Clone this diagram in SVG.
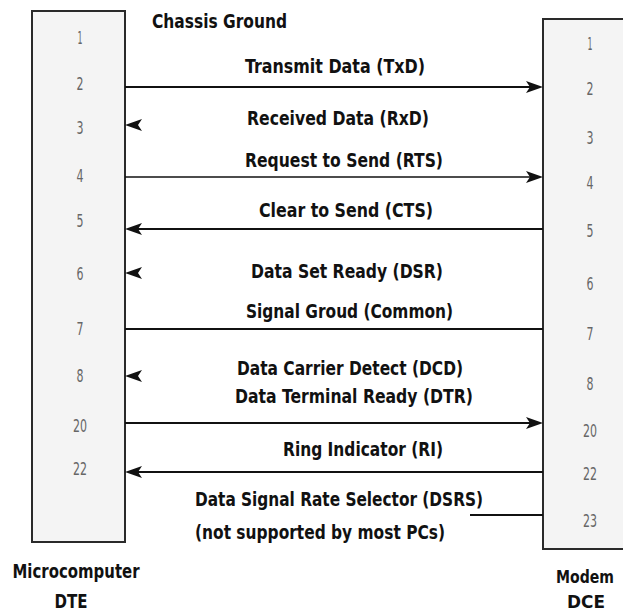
<svg xmlns="http://www.w3.org/2000/svg" width="623" height="615" viewBox="0 0 623 615">
<style>
.box{fill:#f4f4f4;stroke:#2a2a2a;stroke-width:2}
.fill{fill:#f4f4f4}
.edge{fill:none;stroke:#2a2a2a;stroke-width:2}
.num{font-family:"DejaVu Sans Condensed","Liberation Sans Narrow","DejaVu Sans",sans-serif;font-stretch:condensed;font-size:17px;fill:#666;text-anchor:middle}
.lbl{font-family:"DejaVu Sans Condensed","Liberation Sans Narrow","DejaVu Sans",sans-serif;font-stretch:condensed;font-weight:bold;font-size:20px;fill:#111}
.ttl{font-family:"DejaVu Sans Condensed","Liberation Sans Narrow","DejaVu Sans",sans-serif;font-stretch:condensed;font-weight:bold;font-size:20px;fill:#111}
.sm{font-size:18px}
.mid{text-anchor:middle}
.ln{stroke:#111;stroke-width:2;fill:none}
.thin{stroke-width:1.4}
.ah{fill:#111}
</style>
<defs>
<path id="arr" d="M0,0 L-17,-6 L-13,0 L-17,6 Z"/>
</defs>
<g id="dte">
<rect class="box" x="32" y="11" width="93" height="531"/>
<text class="num" x="80" y="44" textLength="5" lengthAdjust="spacingAndGlyphs">1</text>
<text class="num" x="80" y="90" textLength="7" lengthAdjust="spacingAndGlyphs">2</text>
<text class="num" x="80" y="134" textLength="7" lengthAdjust="spacingAndGlyphs">3</text>
<text class="num" x="80" y="182" textLength="7" lengthAdjust="spacingAndGlyphs">4</text>
<text class="num" x="80" y="227" textLength="7" lengthAdjust="spacingAndGlyphs">5</text>
<text class="num" x="80" y="280" textLength="7" lengthAdjust="spacingAndGlyphs">6</text>
<text class="num" x="80" y="335" textLength="7" lengthAdjust="spacingAndGlyphs">7</text>
<text class="num" x="80" y="382" textLength="7" lengthAdjust="spacingAndGlyphs">8</text>
<text class="num" x="80" y="432" textLength="14" lengthAdjust="spacingAndGlyphs">20</text>
<text class="num" x="80" y="475" textLength="14" lengthAdjust="spacingAndGlyphs">22</text>
<text class="ttl mid" x="76" y="578" textLength="127" lengthAdjust="spacingAndGlyphs">Microcomputer</text>
<text class="ttl mid" x="71" y="608" textLength="33" lengthAdjust="spacingAndGlyphs">DTE</text>
</g>
<g id="dce">
<rect class="fill" x="543" y="19" width="80" height="530"/>
<path class="edge" d="M623,19 H543 V549 H623"/>
<text class="num" x="590" y="50" textLength="5" lengthAdjust="spacingAndGlyphs">1</text>
<text class="num" x="590" y="95" textLength="7" lengthAdjust="spacingAndGlyphs">2</text>
<text class="num" x="590" y="144" textLength="7" lengthAdjust="spacingAndGlyphs">3</text>
<text class="num" x="590" y="189" textLength="7" lengthAdjust="spacingAndGlyphs">4</text>
<text class="num" x="590" y="237" textLength="7" lengthAdjust="spacingAndGlyphs">5</text>
<text class="num" x="590" y="290" textLength="7" lengthAdjust="spacingAndGlyphs">6</text>
<text class="num" x="590" y="340" textLength="7" lengthAdjust="spacingAndGlyphs">7</text>
<text class="num" x="590" y="390" textLength="7" lengthAdjust="spacingAndGlyphs">8</text>
<text class="num" x="590" y="437" textLength="14" lengthAdjust="spacingAndGlyphs">20</text>
<text class="num" x="590" y="480" textLength="14" lengthAdjust="spacingAndGlyphs">22</text>
<text class="num" x="590" y="527" textLength="14" lengthAdjust="spacingAndGlyphs">23</text>
<text class="ttl sm mid" x="585" y="583" textLength="58" lengthAdjust="spacingAndGlyphs">Modem</text>
<text class="ttl sm mid" x="586" y="608" textLength="38" lengthAdjust="spacingAndGlyphs">DCE</text>
</g>
<g id="connectors">
<line class="ln" x1="125" y1="87" x2="530" y2="87"/>
<use href="#arr" class="ah" transform="translate(543,87)"/>
<use href="#arr" class="ah" transform="translate(125,125) rotate(180)"/>
<line class="ln thin" x1="125" y1="177" x2="530" y2="177"/>
<use href="#arr" class="ah" transform="translate(543,177)"/>
<line class="ln" x1="138" y1="229" x2="543" y2="229"/>
<use href="#arr" class="ah" transform="translate(125,229) rotate(180)"/>
<use href="#arr" class="ah" transform="translate(125,273) rotate(180)"/>
<line class="ln" x1="125" y1="329" x2="543" y2="329"/>
<use href="#arr" class="ah" transform="translate(125,376) rotate(180)"/>
<line class="ln" x1="125" y1="423" x2="530" y2="423"/>
<use href="#arr" class="ah" transform="translate(543,423)"/>
<line class="ln" x1="138" y1="472" x2="543" y2="472"/>
<use href="#arr" class="ah" transform="translate(125,472) rotate(180)"/>
<line class="ln" x1="470" y1="515" x2="543" y2="515"/>
</g>
<g id="labels">
<text class="lbl" x="152" y="28" textLength="135" lengthAdjust="spacingAndGlyphs">Chassis Ground</text>
<text class="lbl" x="245" y="73" textLength="180" lengthAdjust="spacingAndGlyphs">Transmit Data (TxD)</text>
<text class="lbl" x="247" y="125" textLength="182" lengthAdjust="spacingAndGlyphs">Received Data (RxD)</text>
<text class="lbl" x="245" y="167" textLength="198" lengthAdjust="spacingAndGlyphs">Request to Send (RTS)</text>
<text class="lbl" x="259" y="217" textLength="174" lengthAdjust="spacingAndGlyphs">Clear to Send (CTS)</text>
<text class="lbl" x="251" y="278" textLength="192" lengthAdjust="spacingAndGlyphs">Data Set Ready (DSR)</text>
<text class="lbl" x="246" y="318" textLength="207" lengthAdjust="spacingAndGlyphs">Signal Groud (Common)</text>
<text class="lbl" x="237" y="375" textLength="226" lengthAdjust="spacingAndGlyphs">Data Carrier Detect (DCD)</text>
<text class="lbl" x="235" y="403" textLength="238" lengthAdjust="spacingAndGlyphs">Data Terminal Ready (DTR)</text>
<text class="lbl" x="283" y="456" textLength="160" lengthAdjust="spacingAndGlyphs">Ring Indicator (RI)</text>
<text class="lbl" x="195" y="506" textLength="288" lengthAdjust="spacingAndGlyphs">Data Signal Rate Selector (DSRS)</text>
<text class="lbl" x="195" y="539" textLength="250" lengthAdjust="spacingAndGlyphs">(not supported by most PCs)</text>
</g>
</svg>
